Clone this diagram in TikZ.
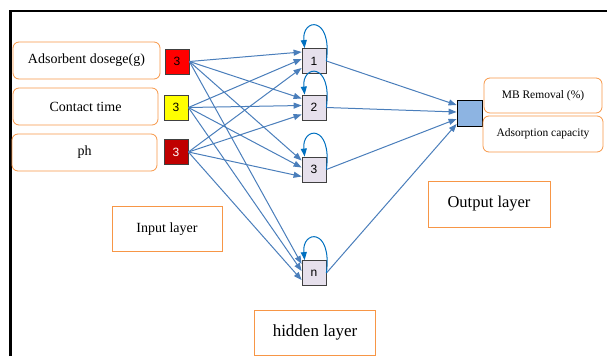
\documentclass[tikz,border=0pt]{standalone}
\usepackage{fontspec}
\setmainfont{Liberation Serif}
\newfontfamily\numfont{Liberation Sans}
\usepackage{xcolor}
\definecolor{boxorange}{RGB}{247,150,70}
\definecolor{linkblue}{RGB}{74,126,187}
\definecolor{loopblue}{RGB}{0,112,192}
\definecolor{dosered}{RGB}{255,0,0}
\definecolor{timeyellow}{RGB}{255,255,0}
\definecolor{phred}{RGB}{192,0,0}
\definecolor{hiddenfill}{RGB}{230,224,236}
\definecolor{outfill}{RGB}{141,180,226}
\usepackage{tikz}
\usetikzlibrary{arrows.meta}

\begin{document}
\begin{tikzpicture}[x=1pt, y=-1pt,
                labelbox/.style={draw=boxorange, line width=0.8pt, rounded corners=6pt, inner sep=0pt},
                layerbox/.style={draw=boxorange, line width=0.8pt, inner sep=0pt},
                neuron/.style={draw=black!75, line width=0.8pt, minimum width=24pt, minimum height=25pt,
                    inner sep=0pt, font=\numfont\fontsize{12}{14}\selectfont},
                link/.style={draw=linkblue, line width=1pt, -{Triangle[length=8pt,width=6pt]}},
                selfloop/.style={draw=loopblue, line width=1pt, -{Triangle[length=8pt,width=6pt]}}
            ]
                \useasboundingbox (0,0) rectangle (607,356);
                \draw [line width=2.5pt] (10.5,356) -- (10.5,11) -- (607,11);

                % input side
                \node [labelbox, minimum width=147pt, minimum height=37pt, font=\fontsize{14}{16}\selectfont] (dose) at (86.5,60.5) {Adsorbent dosege(g)};
                \node [labelbox, minimum width=145pt, minimum height=37pt, font=\fontsize{14}{16}\selectfont] (time) at (85.5,106.5) {Contact time};
                \node [labelbox, minimum width=145pt, minimum height=37pt, font=\fontsize{14}{16}\selectfont] (ph) at (84.5,152.5) {ph};
                \node [neuron, fill=dosered] (in1) at (177,61.5) {3};
                \node [neuron, fill=timeyellow] (in2) at (176,107.5) {3};
                \node [neuron, fill=phred, text=white] (in3) at (176,152) {3};

                % hidden and output
                \node [neuron, fill=hiddenfill] (h1) at (314,61) {1};
                \node [neuron, fill=hiddenfill] (h2) at (314,107.5) {2};
                \node [neuron, fill=hiddenfill] (h3) at (314,169.5) {3};
                \node [neuron, fill=hiddenfill] (hn) at (314,273) {n};
                \node [neuron, draw=black, minimum width=25pt, minimum height=26pt, fill=outfill] (out) at (469.5,113) {};
                \node [labelbox, minimum width=118pt, minimum height=35pt, font=\fontsize{11.5}{13}\selectfont] (removal) at (543,95.5) {MB Removal (\%)};
                \node [labelbox, minimum width=120pt, minimum height=36pt, font=\fontsize{11.5}{13}\selectfont] (capacity) at (543,134) {Adsorption capacity};

                % layer names
                \node [layerbox, minimum width=110pt, minimum height=45pt, font=\fontsize{14}{16}\selectfont] (inlayer) at (167,229) {Input layer};
                \node [layerbox, minimum width=122pt, minimum height=46pt, font=\fontsize{16.5}{18}\selectfont] (outlayer) at (489,204) {Output layer};
                \node [layerbox, minimum width=121pt, minimum height=45pt, font=\fontsize{17}{19}\selectfont] (hidlayer) at (315,332.5) {hidden layer};

                \foreach \i/\dy in {in1/-9, in2/-2, in3/7}
                    \foreach \h in {h1,h2,h3,hn}
                        \draw [link] (\i.east) -- ([shift={(0,\dy)}]\h.west);
                \foreach \h/\dy in {h1/-8, h2/-1, h3/6, hn/11}
                    \draw [link] (\h.east) -- ([shift={(0,\dy)}]out.west);
                \foreach \h in {h1,h2,h3,hn}
                    \draw [selfloop] (\h.east) .. controls +(6,-46) and +(-3,-30) .. ([xshift=3pt]\h.north west);
            \end{tikzpicture}
\end{document}
